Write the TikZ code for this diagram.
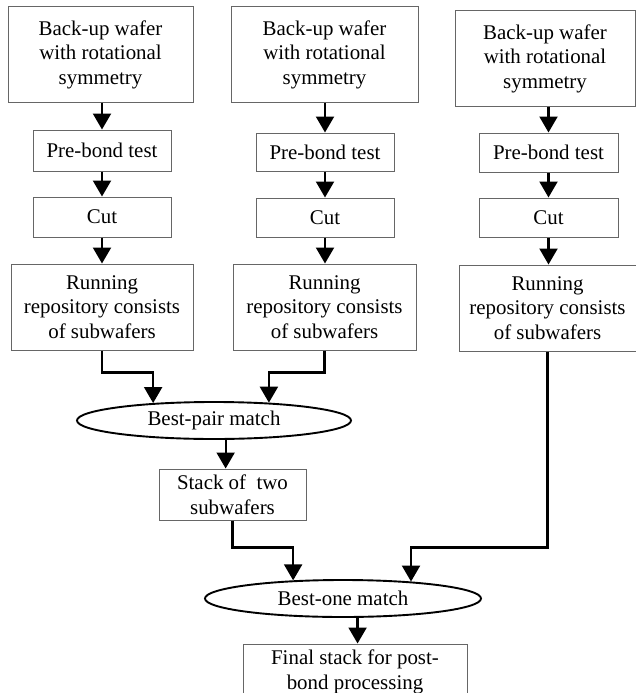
\documentclass[tikz,border=0pt]{standalone}
\usepackage{fontspec}
\setmainfont{Liberation Serif}
\usetikzlibrary{shapes.geometric,arrows.meta}
\begin{document}
\begin{tikzpicture}[x=1pt,y=-1pt,
  txt/.style={font=\fontsize{20.9}{24.5}\selectfont},
  box/.style={txt,draw=black!60,line width=1pt,rectangle,inner sep=0pt,align=center},
  oval/.style={txt,draw=black,line width=1.9pt,ellipse,inner sep=0pt,minimum width=274pt,minimum height=37pt},
  arr/.style={draw=black,line width=2.2pt,-{Triangle[width=18pt,length=16pt]}}]
\useasboundingbox (0,0) rectangle (636,693);
\clip (0,0) rectangle (636,693);
% column 1
\node[box,minimum width=185pt,minimum height=95pt] (T1) at (100.5,54.5) {Back-up wafer\\with rotational\\symmetry};
\node[box,minimum width=138pt,minimum height=41pt] (P1) at (102,150.5) {Pre-bond test};
\node[box,minimum width=138pt,minimum height=40pt] (C1) at (102,217) {Cut};
\node[box,minimum width=182pt,minimum height=86pt] (R1) at (102,307) {Running\\repository consists\\of subwafers};
% column 2
\node[box,minimum width=187pt,minimum height=95pt] (T2) at (324.5,54.5) {Back-up wafer\\with rotational\\symmetry};
\node[box,minimum width=138pt,minimum height=38pt] (P2) at (325,152) {Pre-bond test};
\node[box,minimum width=138pt,minimum height=39pt] (C2) at (325,217.5) {Cut};
\node[box,minimum width=183pt,minimum height=86pt] (R2) at (324.5,307) {Running\\repository consists\\of subwafers};
% column 3
\node[box,minimum width=180pt,minimum height=95pt] (T3) at (545,58.5) {Back-up wafer\\with rotational\\symmetry};
\node[box,minimum width=139pt,minimum height=39pt] (P3) at (548.5,152.5) {Pre-bond test};
\node[box,minimum width=139pt,minimum height=39pt] (C3) at (548.5,217.5) {Cut};
\node[box,minimum width=177pt,minimum height=86pt] (R3) at (547.5,308) {Running\\repository consists\\of subwafers};
% lower part
\node[oval] (E1) at (214,420.5) {Best-pair match};
\node[box,minimum width=147pt,minimum height=51pt] (S) at (232.5,494.5) {Stack of \ two\\subwafers};
\node[oval,minimum width=276pt] (E2) at (343,598.5) {Best-one match};
\node[box,minimum width=224pt,minimum height=56pt] (F) at (355,672) {Final stack for post-\\bond processing};
% arrows
\foreach \c in {1,2,3}{
  \draw[arr] (T\c.south -| P\c.north) -- (P\c.north);
  \draw[arr] (P\c) -- (C\c);
  \draw[arr] (C\c.south) -- (C\c.south |- R\c.north);
}
\draw[arr] (R1.south) -- ++(0,22) -| (E1.164);
\draw[arr] (R2.south) -- ++(0,22) -| (E1.18);
\draw[arr] (E1.-59) -- (E1.-59 |- S.north);
\draw[arr] (S.south) -- ++(0,27) -| (E2.160);
\draw[arr] (R3.south) -- ++(0,196) -| (E2.14);
\draw[arr] (E2.-53) -- (E2.-53 |- F.north);
\end{tikzpicture}
\end{document}
